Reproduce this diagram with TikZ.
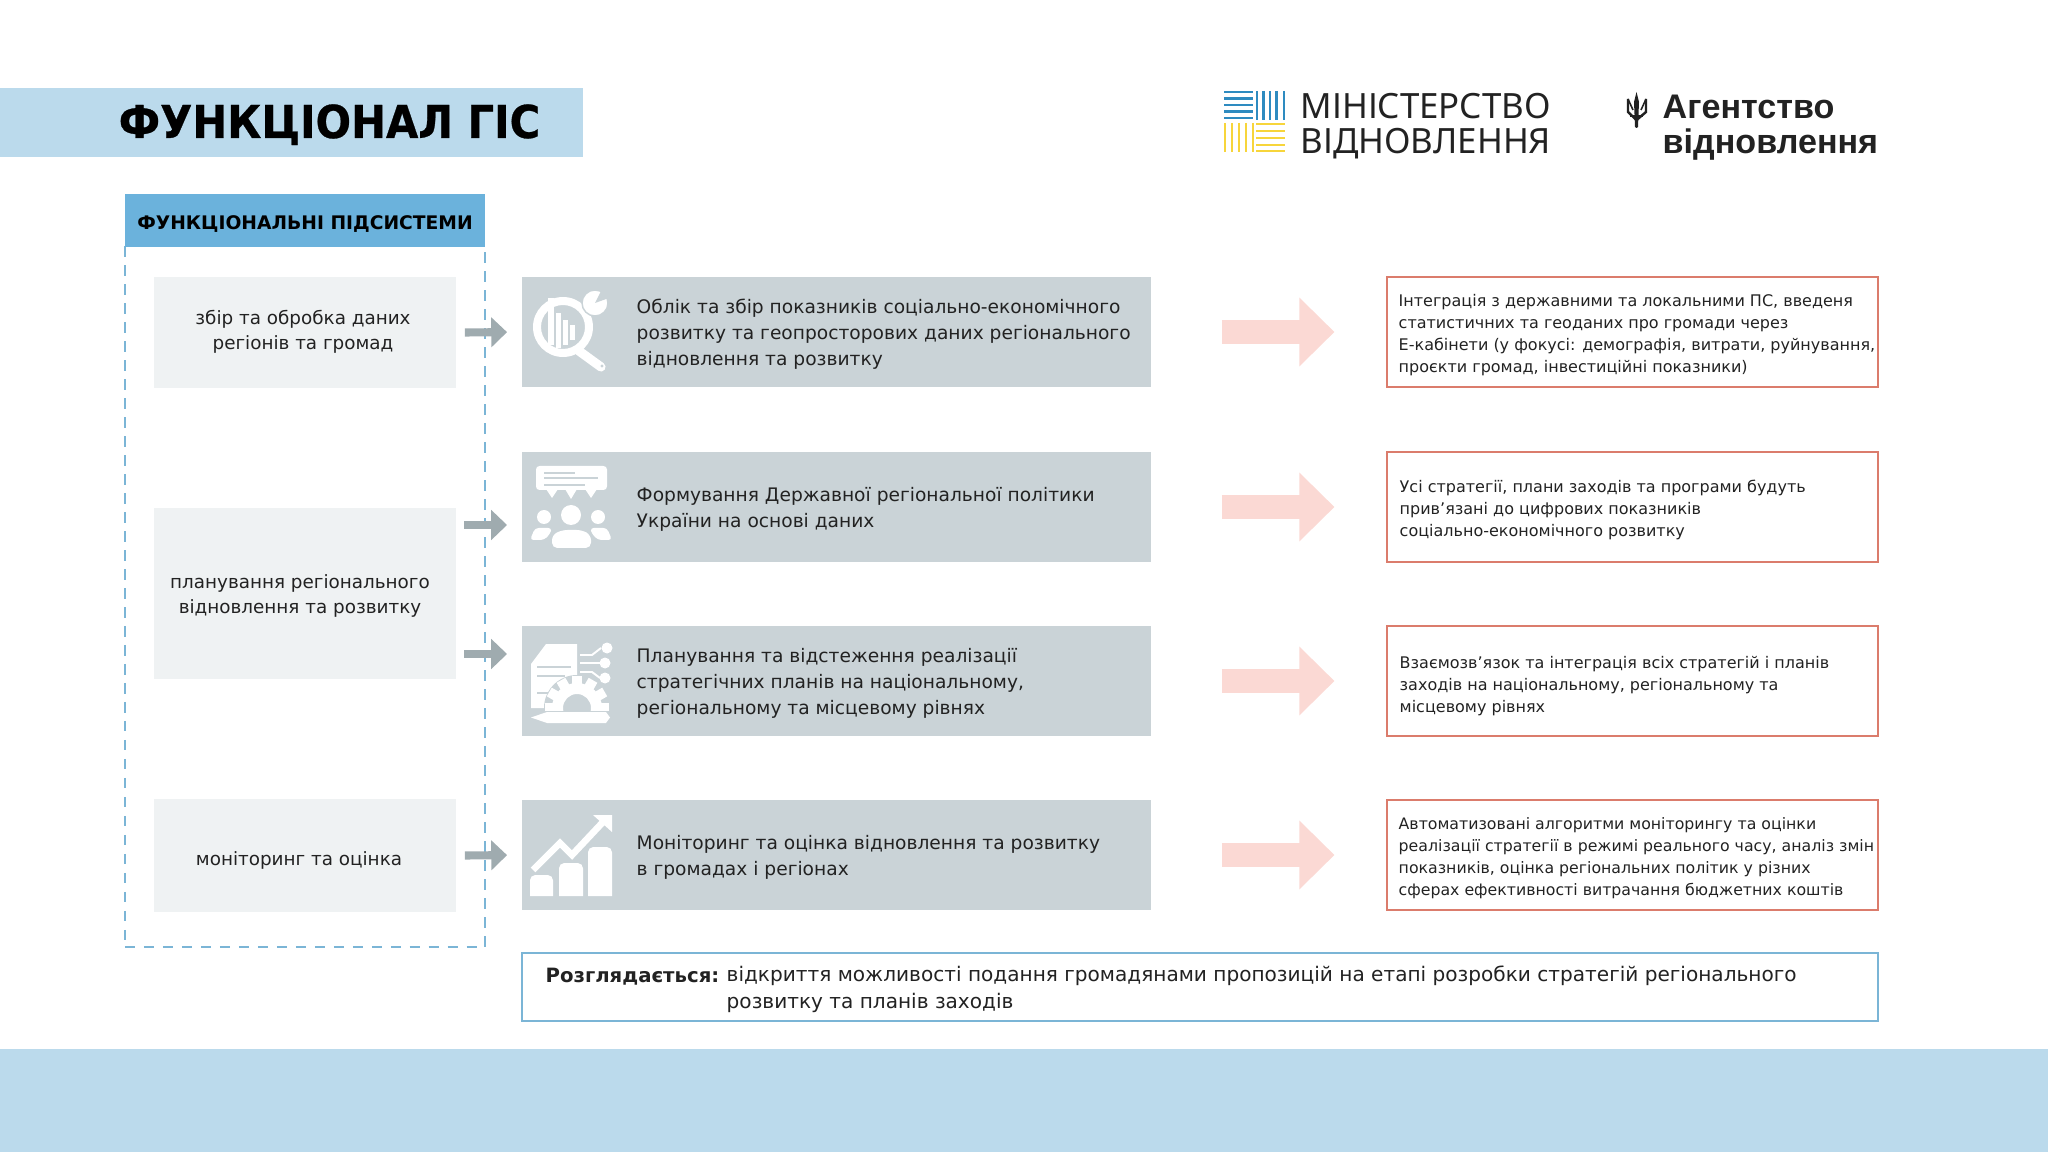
\documentclass[tikz,border=0pt]{standalone}
\usepackage{fontspec}
\setmainfont{DejaVu Sans}
\newfontfamily\logofont{Noto Sans}
\newfontfamily\agencyfont{Liberation Sans}
\newfontfamily\titlefont[FakeStretch=0.92,FakeBold=0.6]{DejaVu Sans}
\usetikzlibrary{arrows.meta}
\definecolor{bandblue}{HTML}{BBDAEC}
\definecolor{headblue}{HTML}{6BB2DC}
\definecolor{dashblue}{HTML}{7BB5D6}
\definecolor{subgrey}{HTML}{EFF2F3}
\definecolor{rowgrey}{HTML}{CAD3D7}
\definecolor{arrowgrey}{HTML}{9FABAF}
\definecolor{arrowpink}{HTML}{FBD9D4}
\definecolor{boxred}{HTML}{DB7C6C}
\definecolor{inkdark}{HTML}{222222}
\definecolor{logoblue}{HTML}{2E8BC0}
\definecolor{logoyellow}{HTML}{F7D53B}
\begin{document}
\begin{tikzpicture}[x=0.01cm,y=-0.01cm,inner sep=0pt,text=inkdark,
  subbox/.style={fill=subgrey,minimum width=3.02cm},
  subtext/.style={align=center,font=\fontsize{5.22}{7.2}\selectfont},
  rowbox/.style={fill=rowgrey,minimum width=6.29cm,minimum height=1.10cm},
  rowtext/.style={anchor=west,align=left,font=\fontsize{5.3}{7.4}\selectfont},
  resultbox/.style={draw=boxred,line width=0.6pt,minimum width=4.91cm,minimum height=1.10cm},
  resulttext/.style={anchor=west,align=left,font=\fontsize{4.55}{6.25}\selectfont},
  greyarrow/.style={draw=arrowgrey,line width=2.3pt,shorten >=4pt,-{Triangle[length=4.5pt,width=8.3pt]}},
  pinkarrow/.style={draw=arrowpink,line width=6.8pt,shorten <=19.9pt,shorten >=14.6pt,-{Triangle[length=10pt,width=19pt]}},
  iconline/.style={draw=rowgrey,line width=0.4pt},
  logoline/.style={line width=0.65pt}]
\useasboundingbox (0,0) rectangle (2048,1152);

% Draw bands
\fill[bandblue] (0,88) rectangle (583,157);
\fill[bandblue] (0,1049) rectangle (2048,1152);
\node[anchor=base,font=\fontsize{12.9}{14}\bfseries\titlefont,text=black] (title) at (329.5,138) {ФУНКЦІОНАЛ ГІС};

% Draw left column
\node[draw=dashblue,line width=0.6pt,dash pattern=on 3pt off 2.4pt,minimum width=3.60cm,minimum height=7.02cm] (subsys) at (305,596) {};
\node[fill=headblue,minimum width=3.60cm,minimum height=0.53cm] (subhead) at (305,220.5) {};
\node[text=black,font=\fontsize{5.32}{6}\bfseries\selectfont] (subheadtxt) at (305,224.5) {ФУНКЦІОНАЛЬНІ ПІДСИСТЕМИ};
\node[subbox,minimum height=1.11cm] (sub1) at (305,332.5) {};
\node[subbox,minimum height=1.71cm] (sub2) at (305,593.5) {};
\node[subbox,minimum height=1.13cm] (sub3) at (305,855.5) {};
\node[subtext] (subtxt1) at (303,331.5) {збір та обробка даних\\регіонів та громад};
\node[subtext] (subtxt2) at (300,596) {планування регіонального\\відновлення та розвитку};
\node[subtext] (subtxt3) at (299,860.5) {моніторинг та оцінка};

% Draw middle rows
\node[rowbox] (row1) at (836.5,332) {};
\node[rowbox] (row2) at (836.5,507) {};
\node[rowbox] (row3) at (836.5,681) {};
\node[rowbox] (row4) at (836.5,855) {};
\node[rowtext] (rowtxt1) at (636,334.5) {Облік та збір показників соціально-економічного\\розвитку та геопросторових даних регіонального\\відновлення та розвитку};
\node[rowtext] (rowtxt2) at (636,509.5) {Формування Державної регіональної політики\\України на основі даних};
\node[rowtext] (rowtxt3) at (636,683.5) {Планування та відстеження реалізації\\стратегічних планів на національному,\\регіональному та місцевому рівнях};
\node[rowtext] (rowtxt4) at (636,857.5) {Моніторинг та оцінка відновлення та розвитку\\в громадах і регіонах};

% Draw right column
\node[resultbox] (res1) at (1632.5,332) {};
\node[resultbox] (res2) at (1632.5,507) {};
\node[resultbox] (res3) at (1632.5,681) {};
\node[resultbox] (res4) at (1632.5,855) {};
\node[resulttext] (restxt1) at (1398,335) {Інтеграція з державними та локальними ПС, введеня\\статистичних та геоданих про громади через\\Е-кабінети (у фокусі: демографія, витрати, руйнування,\\проєкти громад, інвестиційні показники)};
\node[resulttext] (restxt2) at (1399,509.7) {Усі стратегії, плани заходів та програми будуть\\прив’язані до цифрових показників\\соціально-економічного розвитку};
\node[resulttext] (restxt3) at (1399,686) {Взаємозв’язок та інтеграція всіх стратегій і планів\\заходів на національному, регіональному та\\місцевому рівнях};
\node[resulttext,font=\fontsize{4.48}{6.25}\selectfont] (restxt4) at (1398,858.5) {Автоматизовані алгоритми моніторингу та оцінки\\реалізації стратегії в режимі реального часу, аналіз змін\\показників, оцінка регіональних політик у різних\\сферах ефективності витрачання бюджетних коштів};

% Draw bottom note
\node[draw=dashblue,line width=0.6pt,minimum width=13.56cm,minimum height=0.68cm] (note) at (1200,987) {};
\node[anchor=east,font=\fontsize{5.6}{7}\bfseries\selectfont] (notehead) at (720,977) {Розглядається:};
\node[anchor=north west,align=left,font=\fontsize{5.71}{7.8}\selectfont] (notetxt) at (726,965) {відкриття можливості подання громадянами пропозицій на етапі розробки стратегій регіонального\\розвитку та планів заходів};

% Draw arrows
\draw[greyarrow] ([xshift=0.08cm]sub1.east) -- (row1.west);
\coordinate (a2) at (464,525);
\coordinate (a3) at (464,654);
\draw[greyarrow] (a2) -- (a2 -| row2.west);
\draw[greyarrow] (a3) -- (a3 -| row3.west);
\draw[greyarrow] ([xshift=0.08cm]sub3.east) -- (row4.west);
\foreach \i in {1,2,3,4}
  \draw[pinkarrow] (row\i.east) -- (res\i.west);

% Icon 1: magnifier
\fill[white,even odd rule] (563,327) circle (30) (563,327) circle (22);
\fill[white] (548,298) rectangle (554,345);
\fill[white] (556,313) rectangle (561,348);
\fill[white] (563,320) rectangle (568,345);
\fill[white] (570,325) rectangle (575,340);
\draw[white,line width=2.6pt,line cap=round] (579,351) -- (601,367);
\fill[rowgrey] (602,366) circle (1.7);
\fill[white,draw=rowgrey,line width=0.4pt] (595,303) circle (13);
\fill[rowgrey] (595,303) -- (601,291) -- (609,298) -- cycle;

% Icon 2: people with a speech bubble
\fill[white,rounded corners=1pt] (536,466) rectangle (607,490);
\fill[white] (546,489) -- (552,498) -- (558,489) -- cycle;
\fill[white] (565,489) -- (571,499) -- (577,489) -- cycle;
\fill[white] (585,489) -- (591,498) -- (597,489) -- cycle;
\draw[iconline] (544,473) -- (575,473);
\draw[iconline] (544,478) -- (598,478);
\draw[iconline] (544,485) -- (585,485);
\fill[white] (571,515) circle (10);
\fill[white] (544,517) circle (7);
\fill[white] (598,517) circle (7);
\fill[white,rounded corners=1.5pt] (552,548) -- (552,535) -- (562,530) -- (582,530) -- (591,535) -- (591,548) -- cycle;
\fill[white,rounded corners=1pt] (530,540) -- (535,528) -- (552,528) -- (550,534) -- (544,540) -- cycle;
\fill[white,rounded corners=1pt] (612,540) -- (607,528) -- (590,528) -- (592,534) -- (598,540) -- cycle;

% Icon 3: document, gear and pencil
\fill[white] (531,664) -- (546,644) -- (577,644) -- (577,708) -- (531,708) -- cycle;
\draw[iconline] (537,667) -- (571,667);
\draw[iconline] (537,676) -- (565,676);
\draw[iconline] (537,693) -- (548,693);
\begin{scope}
  \clip (530,640) rectangle (615,710);
  \fill[rowgrey] (577,708) circle (33);
  \foreach \a in {0,30,...,330}
    \fill[white,rotate around={\a:(577,708)}] (572,676) rectangle (582,690);
  \fill[white,even odd rule] (577,708) circle (25) (577,708) circle (14);
\end{scope}
\draw[white,line width=0.55pt] (580,655) -- (592,655) -- (601,648);
\draw[white,line width=0.55pt] (580,663) -- (600,663);
\draw[white,line width=0.55pt] (580,672) -- (592,672) -- (600,678);
\fill[white] (607,648) circle (5.5);
\fill[white] (605,663) circle (5.5);
\fill[white] (605,678) circle (5.5);
\fill[white] (531,717.5) -- (547,712) -- (606,712) -- (610,717.5) -- (606,723) -- (547,723) -- cycle;

% Icon 4: growth chart
\fill[white] (530,896) [rounded corners=1.5pt] -- (530,875) -- (553,875) [sharp corners] -- (553,896) -- cycle;
\fill[white] (559,896) [rounded corners=1.5pt] -- (559,863) -- (583,863) [sharp corners] -- (583,896) -- cycle;
\fill[white] (588,896) [rounded corners=1.5pt] -- (588,847) -- (612,847) [sharp corners] -- (612,896) -- cycle;
\draw[white,line width=1.9pt] (533,870) -- (560,843) -- (572,855) -- (603,822);
\fill[white] (593,815) -- (612,815) -- (612,832) -- cycle;

% Draw ministry logo
\foreach \y in {92,98.5,105,111.5,118}
  \draw[logoblue,logoline] (1224,\y) -- (1253,\y);
\foreach \x in {1257,1263.5,1270,1276.5,1284}
  \draw[logoblue,logoline] (\x,91) -- (\x,120);
\foreach \x in {1225,1232,1239,1246,1253}
  \draw[logoyellow,logoline] (\x,123) -- (\x,152);
\foreach \y in {124,131,138,145,151}
  \draw[logoyellow,logoline] (1256,\y) -- (1285,\y);
\node[anchor=base west,font=\fontsize{9.9}{11}\selectfont\logofont] (ministry1) at (1300,119) {МІНІСТЕРСТВО};
\node[anchor=base west,font=\fontsize{9.9}{11}\selectfont\logofont] (ministry2) at (1300,154) {ВІДНОВЛЕННЯ};

% Draw agency logo
\fill[inkdark] (1636.5,92) -- (1639,102) -- (1638,127) -- (1636.5,128) -- (1635,127) -- (1634,102) -- cycle;
\draw[inkdark,line width=0.7pt] (1628,99) -- (1628,112) -- (1636.5,120) -- (1646,112) -- (1646,99);
\draw[inkdark,line width=0.45pt] (1628,99) -- (1633,110) (1646,99) -- (1641,110);
\draw[inkdark,line width=0.55pt] (1630,116) -- (1643,116);
\node[anchor=base west,font=\fontsize{9.7}{11}\bfseries\selectfont\agencyfont] (agency1) at (1662,119) {Агентство};
\node[anchor=base west,font=\fontsize{9.7}{11}\bfseries\selectfont\agencyfont] (agency2) at (1662,154) {відновлення};
\end{tikzpicture}
\end{document}
